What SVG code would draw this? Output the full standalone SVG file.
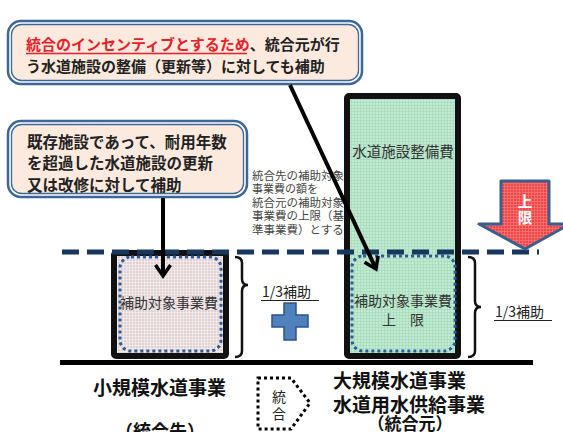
<svg xmlns="http://www.w3.org/2000/svg" width="563" height="432" viewBox="0 0 563 432">
<style>
.jp{font-family:"Noto Sans CJK JP","Noto Sans",sans-serif;}
.cb{font-size:15px;font-weight:bold;fill:#222;}
.lbl{font-size:14px;fill:#333;}
.note{font-size:11px;fill:#444;}
.big{font-size:19px;font-weight:bold;fill:#111;}
.co-out{fill:#fff;stroke:#3D6699;stroke-width:2.5;}
.co-in{fill:#FDEADE;stroke:#3D6699;stroke-width:1.3;}
.box{stroke:#111;stroke-width:6;}
.dots{fill:none;stroke:#2E5B9A;stroke-width:3;stroke-dasharray:3 3;}
.brace{fill:none;stroke:#111;stroke-width:2.5;}
.conn{stroke:#000;stroke-width:4;fill:none;}
</style>
<defs>
<pattern id="pg" width="3" height="3" patternUnits="userSpaceOnUse"><rect width="3" height="3" fill="#C3EBD2"/><path d="M0 0.5H3M0.5 0V3" stroke="#A6DBBC" stroke-width="0.8"/></pattern>
<pattern id="pp" width="3" height="3" patternUnits="userSpaceOnUse"><rect width="3" height="3" fill="#E2D1D3"/><path d="M0 0.5H3M0.5 0V3" stroke="#F4EEEE" stroke-width="0.8"/></pattern>
<pattern id="pr" width="3" height="3" patternUnits="userSpaceOnUse"><rect width="3" height="3" fill="#EF4545"/><path d="M0 0.5H3M0.5 0V3" stroke="#F77676" stroke-width="0.8"/></pattern>
<marker id="chev" viewBox="0 0 20 20" markerWidth="20" markerHeight="20" refX="15" refY="10" markerUnits="userSpaceOnUse" orient="auto" overflow="visible"><path d="M4,2.5 L15,10 L4,17.5" fill="none" stroke="#000" stroke-width="3.5"/></marker>
</defs>
<rect width="563" height="432" fill="#fff"/>

<g id="callout-top">
<rect class="co-out" x="8" y="21" width="354" height="63" rx="13"/>
<rect class="co-in" x="11.5" y="24.5" width="347" height="56" rx="10"/>
<text class="jp cb" x="26" y="50"><tspan fill="#E8202A">統合のインセンティブとするため</tspan>、統合元が行</text>
<line x1="26" y1="53.5" x2="247" y2="53.5" stroke="#E8202A" stroke-width="1.5"/>
<text class="jp cb" x="26" y="72">う水道施設の整備（更新等）に対しても補助</text>
</g>

<g id="callout-left">
<rect class="co-out" x="8" y="121" width="239" height="76" rx="13"/>
<rect class="co-in" x="11.5" y="124.5" width="232" height="69" rx="10"/>
<text class="jp cb" x="27" y="147.5" style="font-size:15.5px">既存施設であって、耐用年数</text>
<text class="jp cb" x="27" y="169" style="font-size:15.5px">を超過した水道施設の更新</text>
<text class="jp cb" x="27" y="190.5" style="font-size:15.5px">又は改修に対して補助</text>
</g>

<g id="note">
<text class="jp note" x="252" y="179.5" style="font-size:11.5px">統合先の補助対象</text>
<text class="jp note" x="252" y="193">事業費の額を</text>
<text class="jp note" x="252" y="206.5" style="font-size:11.5px">統合元の補助対象</text>
<text class="jp note" x="252" y="220" style="font-size:11.5px">事業費の上限（基</text>
<text class="jp note" x="252" y="233.5" style="font-size:11.5px">準事業費）とする</text>
</g>

<g id="large-box">
<rect class="box" x="347" y="96" width="111" height="260" rx="2" fill="url(#pg)"/>
<text class="jp lbl" x="403" y="157" text-anchor="middle" style="font-size:14.5px">水道施設整備費</text>
<rect class="dots" x="352" y="256" width="103" height="95" rx="11"/>
<text class="jp lbl" x="403" y="305.5" text-anchor="middle">補助対象事業費</text>
<text class="jp lbl" x="403" y="324.5" text-anchor="middle">上　限</text>
</g>

<g id="small-box">
<rect class="box" x="114" y="253" width="112" height="103" rx="2" fill="url(#pp)"/>
<rect class="dots" x="120" y="257" width="101" height="94" rx="11"/>
<text class="jp lbl" x="169" y="307.5" text-anchor="middle">補助対象事業費</text>
</g>

<g id="ground">
<rect x="60" y="360" width="473" height="5" fill="#000"/>
</g>

<g id="limit-line">
<line x1="62" y1="252" x2="539" y2="252" stroke="#17375E" stroke-width="5" stroke-dasharray="17 8"/>
</g>

<g id="limit-arrow">
<path d="M501,181 H549 V224 H570 L525,249 L479,224 H501 Z" fill="url(#pr)" stroke="#3A5F8F" stroke-width="3" stroke-linejoin="round"/>
<text class="jp" x="525" y="207" text-anchor="middle" style="font-size:14.5px;font-weight:bold;fill:#fff">上</text>
<text class="jp" x="525" y="223" text-anchor="middle" style="font-size:14.5px;font-weight:bold;fill:#fff">限</text>
</g>

<g id="brace-left">
<path class="brace" d="M235,257 Q242,257 242,263 V279 Q242,285 248,285 Q242,285 242,291 V351 Q242,357 235,357"/>
<text class="jp" x="262" y="297" style="font-size:14px;fill:#222">1/3補助</text>
<line x1="261" y1="300.5" x2="319" y2="300.5" stroke="#222" stroke-width="1.2"/>
</g>

<g id="brace-right">
<path class="brace" d="M468,257 Q475,257 475,263 V301 Q475,307 481,307 Q475,307 475,313 V351 Q475,357 468,357"/>
<text class="jp" x="495" y="317" style="font-size:14px;fill:#222">1/3補助</text>
<line x1="494" y1="320.5" x2="552" y2="320.5" stroke="#222" stroke-width="1.2"/>
</g>

<g id="plus">
<path d="M284,303 H296 V315 H308 V327 H296 V340 H284 V327 H272 V315 H284 Z" fill="#4F81BD" stroke="#2F528F" stroke-width="1.5"/>
</g>

<g id="merge">
<path d="M258,378 H291 L310,403 L291,429 H258 Z" fill="none" stroke="#000" stroke-width="3" stroke-dasharray="3 3"/>
<text class="jp" x="279" y="402" text-anchor="middle" style="font-size:14px;fill:#222">統</text>
<text class="jp" x="279" y="419" text-anchor="middle" style="font-size:14px;fill:#222">合</text>
</g>

<g id="labels">
<text class="jp big" x="93" y="395">小規模水道事業</text>
<text class="jp big" x="160" y="438" text-anchor="middle" style="font-size:18px">（統合先）</text>
<text class="jp big" x="333" y="388">大規模水道事業</text>
<text class="jp big" x="333" y="412">水道用水供給事業</text>
<text class="jp big" x="410" y="430" text-anchor="middle" style="font-size:17px">（統合元）</text>
</g>

<g id="connectors">
<line class="conn" x1="163" y1="198" x2="163" y2="276" marker-end="url(#chev)"/>
<line class="conn" x1="290" y1="85" x2="376" y2="269" marker-end="url(#chev)"/>
</g>
</svg>
